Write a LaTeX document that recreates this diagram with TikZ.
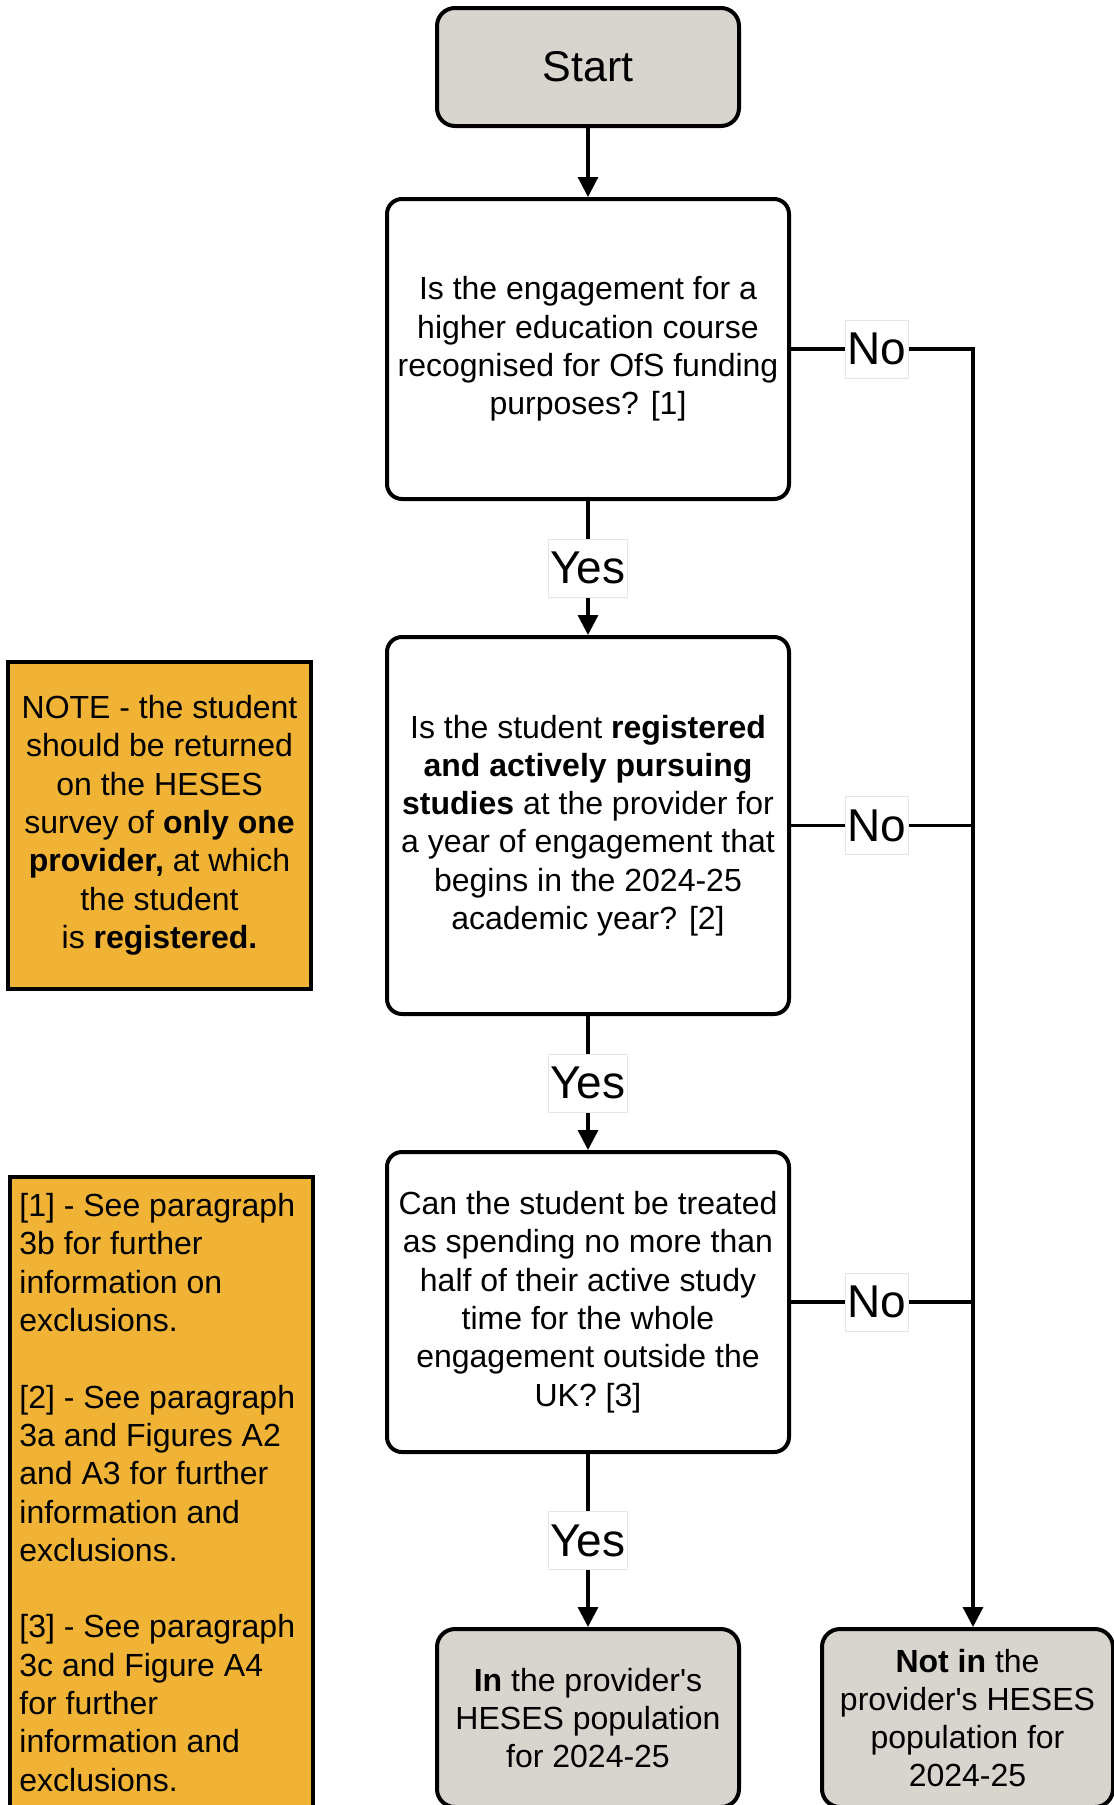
\documentclass[tikz,border=0pt]{standalone}
\usepackage{fontspec}
\setmainfont{Liberation Sans}
\usetikzlibrary{arrows.meta}
\definecolor{boxgrey}{RGB}{216,212,206}
\definecolor{noteorange}{RGB}{240,179,53}
\begin{document}
\begin{tikzpicture}[x=0.5pt,y=-0.5pt,
  base/.style={font=\fontsize{16}{19.15}\selectfont, align=center, inner sep=0pt},
  qbox/.style={base, draw, line width=2pt, rounded corners=7.5pt, minimum width=201pt, fill=white},
  termbox/.style={base, draw, line width=2pt, rounded corners=9pt, fill=boxgrey},
  notebox/.style={base, draw, line width=1.8pt, fill=noteorange},
  lab/.style={font=\fontsize{23}{27}\selectfont, fill=white, draw=black!10, line width=0.4pt, inner xsep=1pt, inner ysep=0pt, minimum height=29pt},
  arr/.style={line width=1.6pt, -{Triangle[length=10pt,width=10pt]}},
  conn/.style={line width=1.6pt}]
\useasboundingbox (0,0) rectangle (1114,1805);
\clip (0,0) rectangle (1114,1805);

\node[termbox, minimum width=151pt, minimum height=59pt, font=\fontsize{21.5}{25}\selectfont] (start) at (588,67) {Start};
\node[qbox, minimum height=150pt] (q1) at (588,349) {Is the engagement for a\\higher education course\\recognised for OfS funding\\purposes? [1]};
\node[qbox, minimum height=188.5pt] (q2) at (588,825.5) {Is the student \textbf{registered}\\\textbf{and actively pursuing}\\\textbf{studies} at the provider for\\a year of engagement that\\begins in the 2024-25\\academic year? [2]};
\node[qbox, minimum height=150pt] (q3) at (588,1302) {Can the student be treated\\as spending no more than\\half of their active study\\time for the whole\\engagement outside the\\UK? [3]};
\node[termbox, minimum width=151pt, minimum height=89pt] (inpop) at (588,1718) {\textbf{In} the provider\textquotesingle s\\HESES population\\for 2024-25};
\node[termbox, minimum width=145.5pt, minimum height=89pt] (notpop) at (967.5,1718) {\textbf{Not in} the\\provider\textquotesingle s HESES\\population for\\2024-25};

\node[notebox, minimum width=151.5pt, minimum height=163.5pt] (note) at (159.5,825.25) {NOTE - the student\\should be returned\\on the HESES\\survey of \textbf{only one}\\\textbf{provider,} at which\\the student\\is \textbf{registered.}};
\node[notebox, minimum width=151.5pt, minimum height=330pt, anchor=north west] (fnbox) at (8,1175) {};
\node[base, anchor=north west, align=left] (fntext) at (19,1193) {[1] - See paragraph\\3b for further\\information on\\exclusions.\\[19.15pt][2] - See paragraph\\3a and Figures A2\\and A3 for further\\information and\\exclusions.\\[19.15pt][3] - See paragraph\\3c and Figure A4\\for further\\information and\\exclusions.};

\draw[arr] (start) -- (q1);
\draw[arr] (q1) -- node[lab]{Yes} (q2);
\draw[arr] (q2) -- node[lab]{Yes} (q3);
\draw[arr] (q3) -- node[lab]{Yes} (inpop);
\coordinate (rl) at (973,349);
\draw[arr] (q1.east) -- node[lab, pos=0.47]{No} (rl) -- (rl |- notpop.north);
\draw[conn] (q2.east) -- node[lab, pos=0.47]{No} (q2.east -| rl);
\draw[conn] (q3.east) -- node[lab, pos=0.47]{No} (q3.east -| rl);
\end{tikzpicture}
\end{document}
